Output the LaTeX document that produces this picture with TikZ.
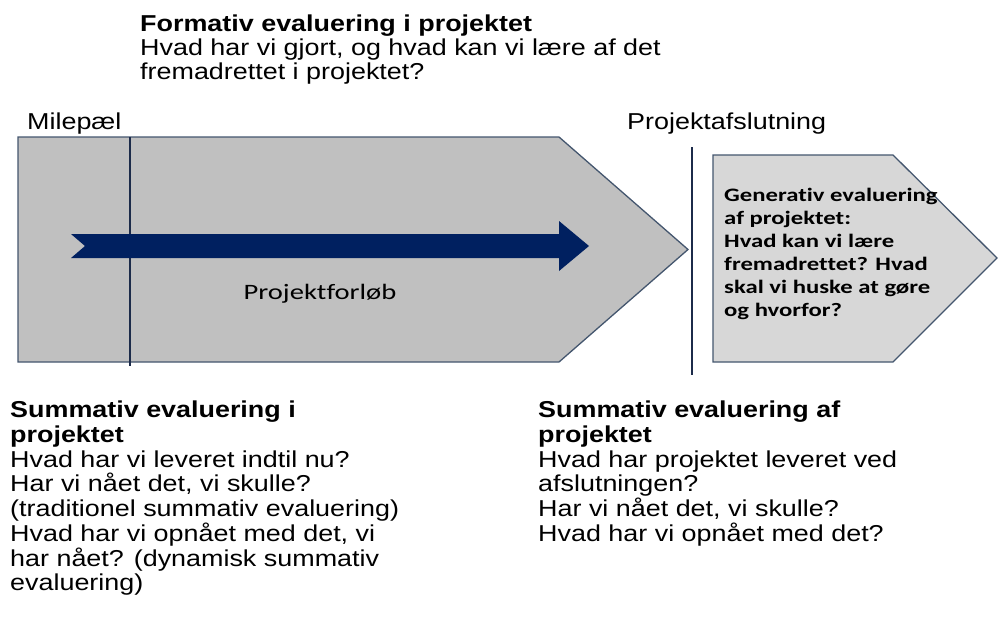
\documentclass[tikz,border=0pt]{standalone}
\usepackage{fontspec}
\setmainfont{Liberation Sans}[FakeStretch=1.17]
\newfontfamily\calfont{Carlito}[FakeStretch=1.3,Ligatures=NoCommon]

\definecolor{bodyfill}{HTML}{C0C0C0}
\definecolor{endfill}{HTML}{D7D7D7}
\definecolor{edgeline}{HTML}{44566E}
\definecolor{markline}{HTML}{1C2B4A}
\definecolor{flowfill}{HTML}{002060}

\begin{document}
\begin{tikzpicture}[x=1pt,y=-1pt,
    phase/.style={draw=edgeline,line width=1.3pt},
    milestone/.style={draw=markline,line width=1.8pt},
    note/.style={anchor=north west,inner sep=0pt,align=left,
        font=\fontsize{23}{24.7}\selectfont},
    toplabel/.style={anchor=north west,inner sep=0pt,
        font=\fontsize{23}{24.7}\selectfont},
    inside/.style={inner sep=0pt,align=left,
        font=\calfont\bfseries\fontsize{19}{23}\selectfont}]
    \useasboundingbox (0,0) rectangle (998,621);

    % project phases
    \draw[phase,fill=bodyfill]
        (18,137) -- (559,137) -- (688,249.5) -- (559,362) -- (18,362) -- cycle;
    \draw[phase,fill=endfill]
        (713,155) -- (893,155) -- (997,258) -- (893,362) -- (713,362) -- cycle;

    % milestones
    \draw[milestone] (130,137) -- (130,366);
    \draw[milestone] (692,147) -- (692,375);

    % course of the project
    \fill[flowfill]
        (71,234) -- (559,234) -- (559,221) -- (589,246) -- (559,271)
        -- (559,258) -- (71,258) -- (85,246) -- cycle;

    \node[toplabel] (milepael) at (27,113) {Milepæl};
    \node[toplabel] (afslut) at (627,113) {Projektafslutning};
    \node[anchor=base,inner sep=0pt,
        font=\calfont\fontsize{22}{26}\selectfont] (forloeb) at (320,299)
        {Projektforløb};

    \node[note,font=\fontsize{23}{24}\selectfont] (formativ) at (140,15)
        {\textbf{Formativ evaluering i projektet}\\
        Hvad har vi gjort, og hvad kan vi lære af det\\
        fremadrettet i projektet?};

    \node[inside,anchor=north west] (generativ) at (724,188)
        {Generativ evaluering\\af projektet:\\Hvad kan vi lære\\
        fremadrettet? Hvad\\skal vi huske at gøre\\og hvorfor?};

    \node[note] (summatividag) at (10,401)
        {\textbf{Summativ evaluering i}\\
        \textbf{projektet}\\
        Hvad har vi leveret indtil nu?\\
        Har vi nået det, vi skulle?\\
        (traditionel summativ evaluering)\\
        Hvad har vi opnået med det, vi\\
        har nået? (dynamisk summativ\\
        evaluering)};

    \node[note] (summativslut) at (538,401)
        {\textbf{Summativ evaluering af}\\
        \textbf{projektet}\\
        Hvad har projektet leveret ved\\
        afslutningen?\\
        Har vi nået det, vi skulle?\\
        Hvad har vi opnået med det?};
\end{tikzpicture}
\end{document}
